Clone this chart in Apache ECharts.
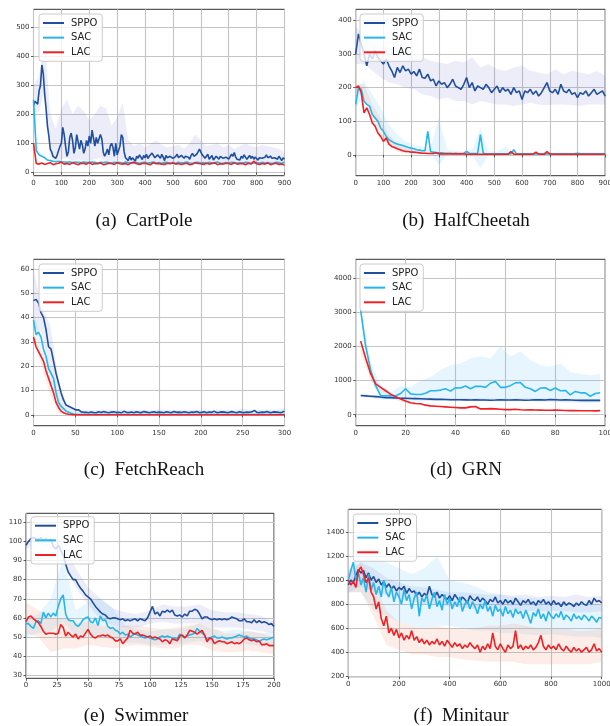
<!DOCTYPE html>
<html><head><meta charset="utf-8">
<script src="https://cdn.jsdelivr.net/npm/echarts@6/dist/echarts.min.js"></script>
<style>html,body{margin:0;padding:0;background:#fff}#c{width:610px;height:726px}</style>
</head><body><div id="c"></div><script>
// ---------------- (a) CartPole ----------------
const cartpoleSPPO = [ // x = 0..900 step 5
230,245,240,235,280,300,370,340,270,220,160,125,
80,70,55,50,48,60,55,90,100,155,130,90,
55,70,120,135,110,65,85,130,135,80,110,95,
65,80,110,90,125,100,145,150,90,120,100,95,
130,115,70,55,65,80,60,90,100,85,55,100,
60,55,90,130,120,70,50,45,40,55,42,50,
45,38,55,48,60,52,44,58,50,62,47,55,
58,66,72,50,45,60,55,48,62,52,40,58,
50,45,55,60,48,42,55,62,50,45,58,52,
48,55,60,52,45,58,65,55,50,62,70,80,
75,60,55,48,52,62,45,50,58,42,48,55,
50,45,55,60,48,42,52,58,45,50,62,55,
68,52,45,50,42,55,48,60,52,45,50,58,
48,55,45,52,58,42,50,55,48,45,52,60,
50,45,55,48,42,50,52,45,55,48,40,50,
45];
const cartpoleSAC = [ // step 10
250,75,60,55,50,42,40,38,36,38,
36,35,34,36,33,35,34,33,35,34,
33,35,34,32,34,33,35,33,32,34,
33,34,32,35,33,32,34,33,31,33,
34,32,33,35,32,33,31,34,33,32,
33,31,34,32,33,35,32,31,33,34,
32,33,31,34,32,33,35,32,31,33,
32,34,33,31,33,32,34,33,31,32,
33,31,34,32,33,31,32,34,33,31,
35];
const cartpoleLAC = [ // step 10
100,30,28,32,27,30,33,26,29,31,
35,28,30,27,33,29,26,31,30,28,
34,27,30,29,32,26,28,31,30,27,
33,29,28,30,26,32,34,29,27,30,
31,28,26,33,29,30,28,27,31,29,
32,28,30,27,29,31,26,28,33,30,
29,27,31,28,30,32,26,29,28,31,
30,27,33,28,29,30,26,31,28,38,
29,27,30,28,32,26,29,31,27,28,
25];
const cartpoleSPPOUpper = [300,330,460,200,150,220,250,200,230,210,180,200,230,220,160,190,240,110,90,100,85,100,110,95,85,90,95,80,100,130,110,90,95,100,85,95,80,90,100,90,85,95,90,85,80,70]; // step 20
const cartpoleSPPOLower = [200,210,280,50,40,45,50,40,45,40,40,45,50,40,35,40,45,30,30,32,30,30,32,30,30,30,32,30,30,30,32,30,30,30,30,30,30,30,30,30,30,30,30,30,30,30];

// ---------------- (b) HalfCheetah ----------------
const cheetahSPPO = [ // step 10
300,360,330,300,265,300,285,310,290,280,
270,285,265,250,230,260,245,265,250,255,
240,248,235,255,230,228,240,220,225,205,
220,210,215,200,210,225,205,200,195,210,
230,200,215,190,205,200,195,210,200,185,
195,205,185,200,190,195,180,200,185,190,
165,190,185,195,180,190,175,185,200,215,
190,185,195,180,210,190,185,195,180,185,
170,185,180,190,175,185,195,180,185,190,
175];
const cheetahSAC = [
150,200,195,160,150,145,120,110,100,80,
70,55,45,40,35,32,30,28,25,22,
20,18,15,14,12,12,70,10,8,7,
6,6,5,5,5,4,5,4,4,5,
10,5,4,4,5,60,5,3,3,3,
3,3,3,3,3,3,3,15,3,3,
3,3,3,3,3,3,3,3,3,3,
3,3,3,3,3,3,3,3,3,3,
5,3,3,3,3,3,3,3,3,3,
3];
const cheetahLAC = [
200,205,185,125,140,120,95,85,65,55,
40,50,32,25,22,18,15,12,10,10,
8,8,7,6,5,5,4,4,4,6,
3,3,3,3,3,3,3,3,3,3,
2,2,2,2,2,2,2,2,2,2,
2,2,2,2,2,2,10,2,2,2,
2,2,2,2,2,8,2,2,2,10,
3,2,2,2,2,2,2,2,2,2,
2,2,2,2,2,2,2,2,2,2,
2];
const cheetahSPPOUpper = [380,360,340,330,320,320,310,300,290,280,275,270,280,275,290,260,270,255,250,260,265,250,245,240,255,240,250,245,240,250,235]; // step 30
const cheetahSPPOLower = [270,270,250,230,215,210,200,195,180,175,165,170,160,160,150,160,155,150,150,145,150,155,150,148,150,150,148,145,150,150,150];
const cheetahSACUpper = [200,220,180,140,90,60,40,30,25,20,110,15,12,10,15,80,10,10,25,8,8,8,8,8,8,8,8,8,8,8,8];
const cheetahSACLower = [140,170,120,80,40,20,10,8,5,3,-30,2,1,1,0,-40,0,0,0,0,0,0,0,0,0,0,0,0,0,0,0];
const cheetahLACUpper = [210,210,150,110,60,35,20,12,10,8,6,5,5,5,5,5,5,5,5,5,5,5,5,5,5,5,5,5,5,5,5];
const cheetahLACLower = [190,170,90,60,25,10,5,3,2,1,1,0,0,0,0,0,0,0,0,0,0,0,0,0,0,0,0,0,0,0,0];

// ---------------- (c) FetchReach ----------------
const fetchSPPO = [ // step 3
47,47.5,46,42,40,35,28,27,22,17,
13,9,6,4,3.5,3,2.5,2,2,1.2,
1,1,0.8,1.1,0.9,0.8,1.2,0.9,1.3,1,
0.8,1.1,1.2,0.9,1,0.8,1.4,1,0.9,1.1,
0.8,1.2,1,0.9,1.3,1.1,0.8,1,1.2,0.9,
1.1,1,0.8,1.2,1,0.9,1.3,1,1.1,0.9,
1.2,1,0.8,1.1,1,1.3,0.9,1,1.2,0.8,
1.1,1,1.4,0.9,1,1.2,1.1,0.9,1,1.3,
1,0.8,1.2,1,0.9,1.1,1,1.2,1.8,1,
0.9,1.1,1,1.3,0.9,1,1.2,1.1,0.9,1,
1.5];
const fetchSAC = [
39,33,34,32,27,24,19,17,15,9,
5,3.5,2.5,1.5,1,0.6,0.3,0.2,0.1,0.1,
0.1,0.1,0.1,0.1,0.1,0.1,0.1,0.1,0.1,0.1,
0.1,0.1,0.1,0.1,0.1,0.1,0.1,0.1,0.1,0.1,
0.1,0.1,0.1,0.1,0.1,0.1,0.1,0.1,0.1,0.1,
0.1,0.1,0.1,0.1,0.1,0.1,0.1,0.1,0.1,0.1,
0.1,0.1,0.1,0.1,0.1,0.1,0.1,0.1,0.1,0.1,
0.1,0.1,0.1,0.1,0.1,0.1,0.1,0.1,0.1,0.1,
0.1,0.1,0.1,0.1,0.1,0.1,0.1,0.1,0.1,0.1,
0.1,0.1,0.1,0.1,0.1,0.1,0.1,0.1,0.1,0.1,
0.1];
const fetchLAC = [
32,28,26,24,22,18,15,12,9,5,
3,1.5,0.8,0.4,0.2,0.1,0,0,0,0,
0,0,0,0,0,0,0,0,0,0,
0,0,0,0,0,0,0,0,0,0,
0,0,0,0,0,0,0,0,0,0,
0,0,0,0,0,0,0,0,0,0,
0,0,0,0,0,0,0,0,0,0,
0,0,0,0,0,0,0,0,0,0,
0,0,0,0,0,0,0,0,0,0,
0,0,0,0,0,0,0,0,0,0,
0];
const fetchSPPOUpper = [60,44,37,14,4,2.5,2,2,2,2.2,2,2,2.2,2,2,2.2,2,2,2,2.2,2,2,2.2,2,2,2.6,2,2,2.2,2,3]; // step 10
const fetchSPPOLower = [36,34,17,3,1,0.4,0.2,0.2,0.3,0.2,0.2,0.3,0.2,0.2,0.2,0.3,0.2,0.2,0.2,0.3,0.2,0.2,0.2,0.3,0.2,0.2,0.2,0.2,0.3,0.2,0.2];
const fetchSACUpper = [42,31,19,6,1.2,0.3,0.2,0.2,0.2,0.2,0.2,0.2,0.2,0.2,0.2,0.2,0.2,0.2,0.2,0.2,0.2,0.2,0.2,0.2,0.2,0.2,0.2,0.2,0.2,0.2,0.2];
const fetchSACLower = [35,25,13,2,0.2,0,0,0,0,0,0,0,0,0,0,0,0,0,0,0,0,0,0,0,0,0,0,0,0,0,0];
const fetchLACUpper = [34,25,14,2.5,0.3,0.1,0.1,0.1,0.1,0.1,0.1,0.1,0.1,0.1,0.1,0.1,0.1,0.1,0.1,0.1,0.1,0.1,0.1,0.1,0.1,0.1,0.1,0.1,0.1,0.1,0.1];
const fetchLACLower = [30,20,8,0.5,0,0,0,0,0,0,0,0,0,0,0,0,0,0,0,0,0,0,0,0,0,0,0,0,0,0,0];

// ---------------- (d) GRN ----------------
const grnSPPO = [ // x = 2..98 step 2
560,550,540,530,520,500,500,490,480,480,
475,470,465,460,455,450,450,445,440,440,
440,435,430,435,430,430,425,430,440,430,
430,435,430,425,430,440,435,430,445,440,
430,435,430,425,420,420,425,420,420];
const grnSAC = [
3050,2000,1300,850,560,550,560,550,620,760,
610,590,590,630,700,700,720,760,690,790,
780,840,760,830,830,800,920,970,800,800,
850,930,940,800,760,680,780,790,710,780,
700,710,580,680,640,640,540,620,640];
const grnLAC = [
2150,1650,1200,900,800,700,600,530,460,400,
350,330,320,280,260,250,240,230,220,210,
200,200,230,240,170,170,180,170,160,150,
150,160,145,140,145,140,135,130,130,135,
130,125,120,120,118,115,115,112,120];
const grnSACUpper = [3150,1500,900,650,850,800,1000,1100,1300,1450,1500,1650,1700,1650,2000,1700,1850,1600,1450,1400,1500,1250,1200,1150,1200]; // x = 2..98 step 4
const grnSACLower = [2900,1000,450,450,450,400,380,400,420,400,420,420,400,400,420,420,430,400,380,390,370,360,350,340,350];
const grnLACUpper = [2200,1300,800,620,450,380,330,270,250,230,220,260,200,190,170,160,160,150,140,140,140,130,130,130,135];
const grnLACLower = [1800,1000,700,480,380,300,280,230,210,190,170,200,150,150,140,130,130,120,120,115,110,105,100,100,100];
const grnSPPOUpper = [600,560,520,500,490,480,480,470,480,480,470,460,460]; // x = 2..98 step 8
const grnSPPOLower = [520,460,440,420,410,400,395,390,395,400,390,385,380];

// ---------------- (e) Swimmer ----------------
const swimSPPO = [ // x = 0..200 step 2
98,100,101.5,102,101.5,101,102,100.5,101.5,100.5,
101,97.5,96,98,95.5,93,88,84,82,80,
80,77.5,75.5,74,72,71,70,68,66,64.5,
63,62,61.5,60,59.5,60,60,59.5,59,59.5,
58.5,59,58.5,59,59.5,58.5,59.5,59,58.5,60,
63,66,62,63,61,63.5,63,64,63,64,
61.5,61,61.5,60.5,62,61,63.5,63.5,64.5,64,
62,59.5,60.5,60.5,59.5,59,59.5,59,59.5,59,
59.5,59,59.5,60.5,60,59.5,58.5,58.5,59.5,58,
58,57.5,59,57.5,58.5,57.5,58,57.5,56.5,57,
55.5];
const swimSAC = [
57,57,55.5,54.5,58,58.5,57,63,60,62.5,
60.5,62.5,61,66,70,72,62,59,58.5,58.5,
56.5,55.5,57,59,60,60.5,58,57.5,60,56,
61,58.5,59,55.5,54.5,55,53.5,53,51.5,52.5,
51,51.5,50,51,52,51,50.5,50,49.5,50,
49.5,49,48.5,49,50,50.5,50,50.5,50,49.5,
49.5,49,51.5,50.5,50,50.5,51,51.5,52,54.5,
53,52,51,48.5,49.5,50,50.5,49.5,49.5,50,
49.5,49,49.5,49.5,50,50.5,51,50.5,50,50.5,
49.5,49,49,48.5,47.5,48.5,49,48.5,49,49.5,
50];
const swimLAC = [
58,60.5,61,59.5,58.5,57.5,55.5,53,51.5,52,
52,52,51.5,52,56.5,55,50.5,52.5,51,50,
51.5,49,50.5,50,52,54,51.5,50,49.5,50.5,
50.5,51,50.5,51,50,49.5,48,48,49,46.5,
48,49.5,53.5,52,51.5,52.5,51,51,50.5,50,
50.5,49.5,50,49.5,49,47.5,48.5,48,46.5,49,
48.5,48,50.5,51,49.5,51,53.5,53,52.5,51.5,
52.5,53.5,51,47.5,49.5,49,46.5,47.5,48,47.5,
47.5,46.5,47,47.5,46.5,47,46.5,47.5,49,49.5,
48.5,48,48.5,47.5,48,46,46,46.5,45.5,45.5,
45.5];
const swimSPPOUpper = [100,104,103,99,86,76,70,65,63,62,64,67,66,66,67,64,63,63,62,61,58]; // step 10
const swimSPPOLower = [96,99,97,90,76,67,59,56,55,55,57,58,57,57,57,55,55,55,54,53,52];
const swimSACUpper = [60,62,70,92,64,68,70,65,56,54,53,54,54,55,57,54,53,54,53,52,53];
const swimSACLower = [50,52,53,58,50,52,50,48,47,47,46,46,46,47,48,46,46,47,46,45,46];
const swimLACUpper = [68,64,60,60,57,58,56,55,56,56,55,54,55,56,57,55,52,52,53,52,50];
const swimLACLower = [52,50,42,44,44,46,45,44,45,46,45,44,44,46,46,43,42,42,43,42,41];

// ---------------- (f) Minitaur ----------------
const minitaurSPPO = [ // x = 0..1000 step 10
960,1000,980,1040,1090,1060,1080,1020,1060,1000,
1030,980,1010,960,990,940,970,930,950,910,
940,920,950,890,930,900,910,870,900,860,
890,870,950,880,860,900,850,880,860,840,
870,830,880,850,820,860,840,810,870,840,
830,860,820,850,830,800,840,820,860,810,
830,800,840,810,830,800,850,820,790,830,
810,840,800,820,790,830,810,840,800,820,
790,830,800,810,780,820,790,810,800,780,
810,790,820,800,790,830,800,850,820,830,
810];
const minitaurSAC = [
1000,1080,1150,1000,1060,960,1020,900,1050,920,
980,880,950,860,1000,900,860,940,820,900,
860,800,920,830,880,760,850,900,700,850,
820,880,760,840,900,780,830,750,880,800,
850,760,820,780,860,740,800,830,760,820,
780,720,800,760,830,740,780,700,790,740,
760,700,780,720,750,690,760,720,740,680,
750,700,640,730,700,760,680,720,660,740,
700,680,720,690,740,670,710,690,660,720,
680,700,670,710,690,660,700,680,650,690,
680];
const minitaurLAC = [
1000,960,990,940,1080,1110,1050,980,1020,900,
860,760,820,680,620,700,560,600,540,590,
520,560,500,540,510,580,500,530,480,510,
470,500,460,490,470,510,460,490,450,500,
470,440,480,450,470,430,460,440,480,450,
430,460,400,450,420,470,430,560,450,420,
470,430,400,460,430,450,580,430,460,420,
450,430,460,420,440,480,540,450,420,460,
430,450,420,470,430,410,450,420,400,440,
410,430,400,420,440,400,420,470,410,430,
400];
const minitaurSPPOUpper = [1050,1150,1100,1020,980,950,940,920,900,900,890,880,880,870,880,860,870,860,880,860,870]; // step 50
const minitaurSPPOLower = [900,950,900,880,850,820,800,790,780,770,760,760,750,750,740,740,740,740,730,730,740];
const minitaurSACUpper = [1100,1250,1200,1150,1100,1050,1100,1200,1000,980,950,900,880,860,850,850,830,820,800,800,790];
const minitaurSACLower = [900,900,750,700,650,620,600,620,620,600,580,580,560,560,550,540,550,540,530,530,520];
const minitaurLACUpper = [1080,1150,1000,750,650,620,600,620,600,600,600,620,620,640,620,600,600,600,580,580,600];
const minitaurLACLower = [900,900,700,460,420,380,380,360,360,340,330,320,320,320,300,300,300,300,300,300,320];

// ---------------- tick labels / captions ----------------
const yTicksA = [0,100,200,300,400,500];
const yTicksB = [0,100,200,300,400];
const yTicksC = [0,10,20,30,40,50,60];
const yTicksD = [0,1000,2000,3000,4000];
const yTicksE = [30,40,50,60,70,80,90,100,110];
const yTicksF = [200,400,600,800,1000,1200,1400];
const captions = ['(a)\u2002CartPole','(b)\u2002HalfCheetah','(c)\u2002FetchReach','(d)\u2002GRN','(e)\u2002Swimmer','(f)\u2002Minitaur'];
const seriesNames = ['SPPO','SAC','LAC'];

// ---------------- styles & layout ----------------
const COLORS = {SPPO:'#1f4f9f', SAC:'#27b5ec', LAC:'#ee2226'};
const BANDC = {SPPO:'rgba(105,115,205,0.13)', SAC:'rgba(95,195,245,0.15)', LAC:'rgba(245,140,110,0.16)'};

const panels = [
  {grid:{left:33.5,top:9.3,width:251,height:166.4}, x:[0,900,100], y:[-12,562,5], ticks:yTicksA,
   lines:[['SPPO',cartpoleSPPO,0,5],['SAC',cartpoleSAC,0,10],['LAC',cartpoleLAC,0,10]],
   bands:[['SPPO',cartpoleSPPOUpper,cartpoleSPPOLower,0,20]],
   legend:[39,14], cap:[144,221]},
  {grid:{left:355.7,top:9.3,width:249.5,height:166.4}, x:[0,900,100], y:[-62,433,5], ticks:yTicksB,
   lines:[['SPPO',cheetahSPPO,0,10],['SAC',cheetahSAC,0,10],['LAC',cheetahLAC,0,10]],
   bands:[['SPPO',cheetahSPPOUpper,cheetahSPPOLower,0,30],['SAC',cheetahSACUpper,cheetahSACLower,0,30],['LAC',cheetahLACUpper,cheetahLACLower,0,30]],
   legend:[360,14], cap:[466,221]},
  {grid:{left:33.5,top:259.3,width:251,height:166.4}, x:[0,300,50], y:[-4.5,64,5], ticks:yTicksC,
   lines:[['SPPO',fetchSPPO,0,3],['SAC',fetchSAC,0,3],['LAC',fetchLAC,0,3]],
   bands:[['SPPO',fetchSPPOUpper,fetchSPPOLower,0,10],['SAC',fetchSACUpper,fetchSACLower,0,10],['LAC',fetchLACUpper,fetchLACLower,0,10]],
   legend:[39,264], cap:[144,470]},
  {grid:{left:355.7,top:259.3,width:249.5,height:166.4}, x:[0,100,20], y:[-320,4540,5], ticks:yTicksD,
   lines:[['SPPO',grnSPPO,2,2],['SAC',grnSAC,2,2],['LAC',grnLAC,2,2]],
   bands:[['SAC',grnSACUpper,grnSACLower,2,4],['LAC',grnLACUpper,grnLACLower,2,4],['SPPO',grnSPPOUpper,grnSPPOLower,2,8]],
   legend:[360,264], cap:[466,470]},
  {grid:{left:26,top:513.3,width:248,height:165}, x:[0,200,25], y:[28.4,114.7,8], ticks:yTicksE,
   lines:[['SPPO',swimSPPO,0,2],['SAC',swimSAC,0,2],['LAC',swimLAC,0,2]],
   bands:[['SPPO',swimSPPOUpper,swimSPPOLower,0,10],['SAC',swimSACUpper,swimSACLower,0,10],['LAC',swimLACUpper,swimLACLower,0,10]],
   legend:[31,516.7], cap:[136,716]},
  {grid:{left:348.3,top:509.3,width:253.4,height:167.4}, x:[0,1000,200], y:[196,1590,7], ticks:yTicksF,
   lines:[['SPPO',minitaurSPPO,0,10],['SAC',minitaurSAC,0,10],['LAC',minitaurLAC,0,10]],
   bands:[['SPPO',minitaurSPPOUpper,minitaurSPPOLower,0,50],['SAC',minitaurSACUpper,minitaurSACLower,0,50],['LAC',minitaurLACUpper,minitaurLACLower,0,50]],
   legend:[353.3,514], cap:[461,716]}
];

function pairs(vals, x0, step){ return vals.map((v,i)=>[x0+i*step, v]); }

const grids=[], xAxes=[], yAxes=[], series=[], legends=[], graphics=[];
const labelStyle = {fontSize:7, color:'#333', fontFamily:'DejaVu Sans'};
const lineIcon = 'path://M0,0L21,0L21,2L0,2Z';
panels.forEach((p, i) => {
  grids.push(Object.assign({show:true, borderColor:'#333', borderWidth:1, backgroundColor:'transparent', containLabel:false, outerBoundsMode:'none'}, p.grid));
  xAxes.push({gridIndex:i, type:'value', min:p.x[0], max:p.x[1], interval:p.x[2],
    axisLine:{show:false}, axisTick:{show:true, length:2.5, lineStyle:{color:'#333', width:0.8}},
    axisLabel:Object.assign({margin:3.5, showMaxLabel:true, showMinLabel:true, hideOverlap:false, formatter:(v)=>String(v)}, labelStyle),
    splitLine:{show:true, lineStyle:{color:'#c4c4c4', width:1.1}}});
  const tk = p.ticks;
  yAxes.push({gridIndex:i, type:'value', min:p.y[0], max:p.y[1], splitNumber:p.y[2],
    axisLine:{show:false}, axisTick:{show:true, length:2.5, lineStyle:{color:'#333', width:0.8}, customValues:tk},
    axisLabel:Object.assign({margin:4, customValues:tk, formatter:(v)=> tk.indexOf(Math.round(v*1000)/1000) >= 0 ? String(Math.round(v)) : ''}, labelStyle),
    splitLine:{show:true, lineStyle:{color:'#c4c4c4', width:1.1}}});
  p.bands.forEach(b => {
    const [nm, up, lo, x0, st] = b;
    series.push({type:'custom', xAxisIndex:i, yAxisIndex:i, silent:true, clip:true, z:1,
      data:[[x0, up[0]]],
      renderItem:(params, api) => {
        if (params.dataIndex !== 0) return;
        const pts=[];
        for (let k=0;k<up.length;k++) pts.push(api.coord([x0+k*st, up[k]]));
        for (let k=lo.length-1;k>=0;k--) pts.push(api.coord([x0+k*st, lo[k]]));
        return {type:'polygon', shape:{points:pts}, style:{fill:BANDC[nm]}};
      }});
  });
  p.lines.forEach(l => {
    const [nm, vals, x0, st] = l;
    series.push({type:'line', name:nm, xAxisIndex:i, yAxisIndex:i, data:pairs(vals,x0,st),
      symbol:'none', showSymbol:false, silent:true, z:3, clip:true,
      lineStyle:{width:1.6, color:COLORS[nm]}, itemStyle:{color:COLORS[nm]}});
  });
  legends.push({data:seriesNames.map(n=>({name:n, icon:lineIcon})), orient:'vertical', left:p.legend[0], top:p.legend[1],
    itemWidth:21, itemHeight:10, itemGap:4.65, padding:[4,5,4,4], selectedMode:false,
    backgroundColor:'rgba(255,255,255,0.8)', borderColor:'#cccccc', borderWidth:1, borderRadius:3,
    textStyle:{fontSize:10, fontFamily:'DejaVu Sans', color:'#222', padding:[0,0,0,2]}});
  graphics.push({type:'text', x:p.cap[0], y:p.cap[1],
    style:{text:captions[i], font:'19px "Liberation Serif", "Times New Roman", serif', fill:'#111',
      align:'center', verticalAlign:'middle', textAlign:'center', textVerticalAlign:'middle'}});
});

const chart = echarts.init(document.getElementById('c'), null, {renderer:'canvas'});
chart.setOption({animation:false, backgroundColor:'#fff', grid:grids, xAxis:xAxes, yAxis:yAxes,
  series:series, legend:legends, graphic:graphics});
</script></body></html>
